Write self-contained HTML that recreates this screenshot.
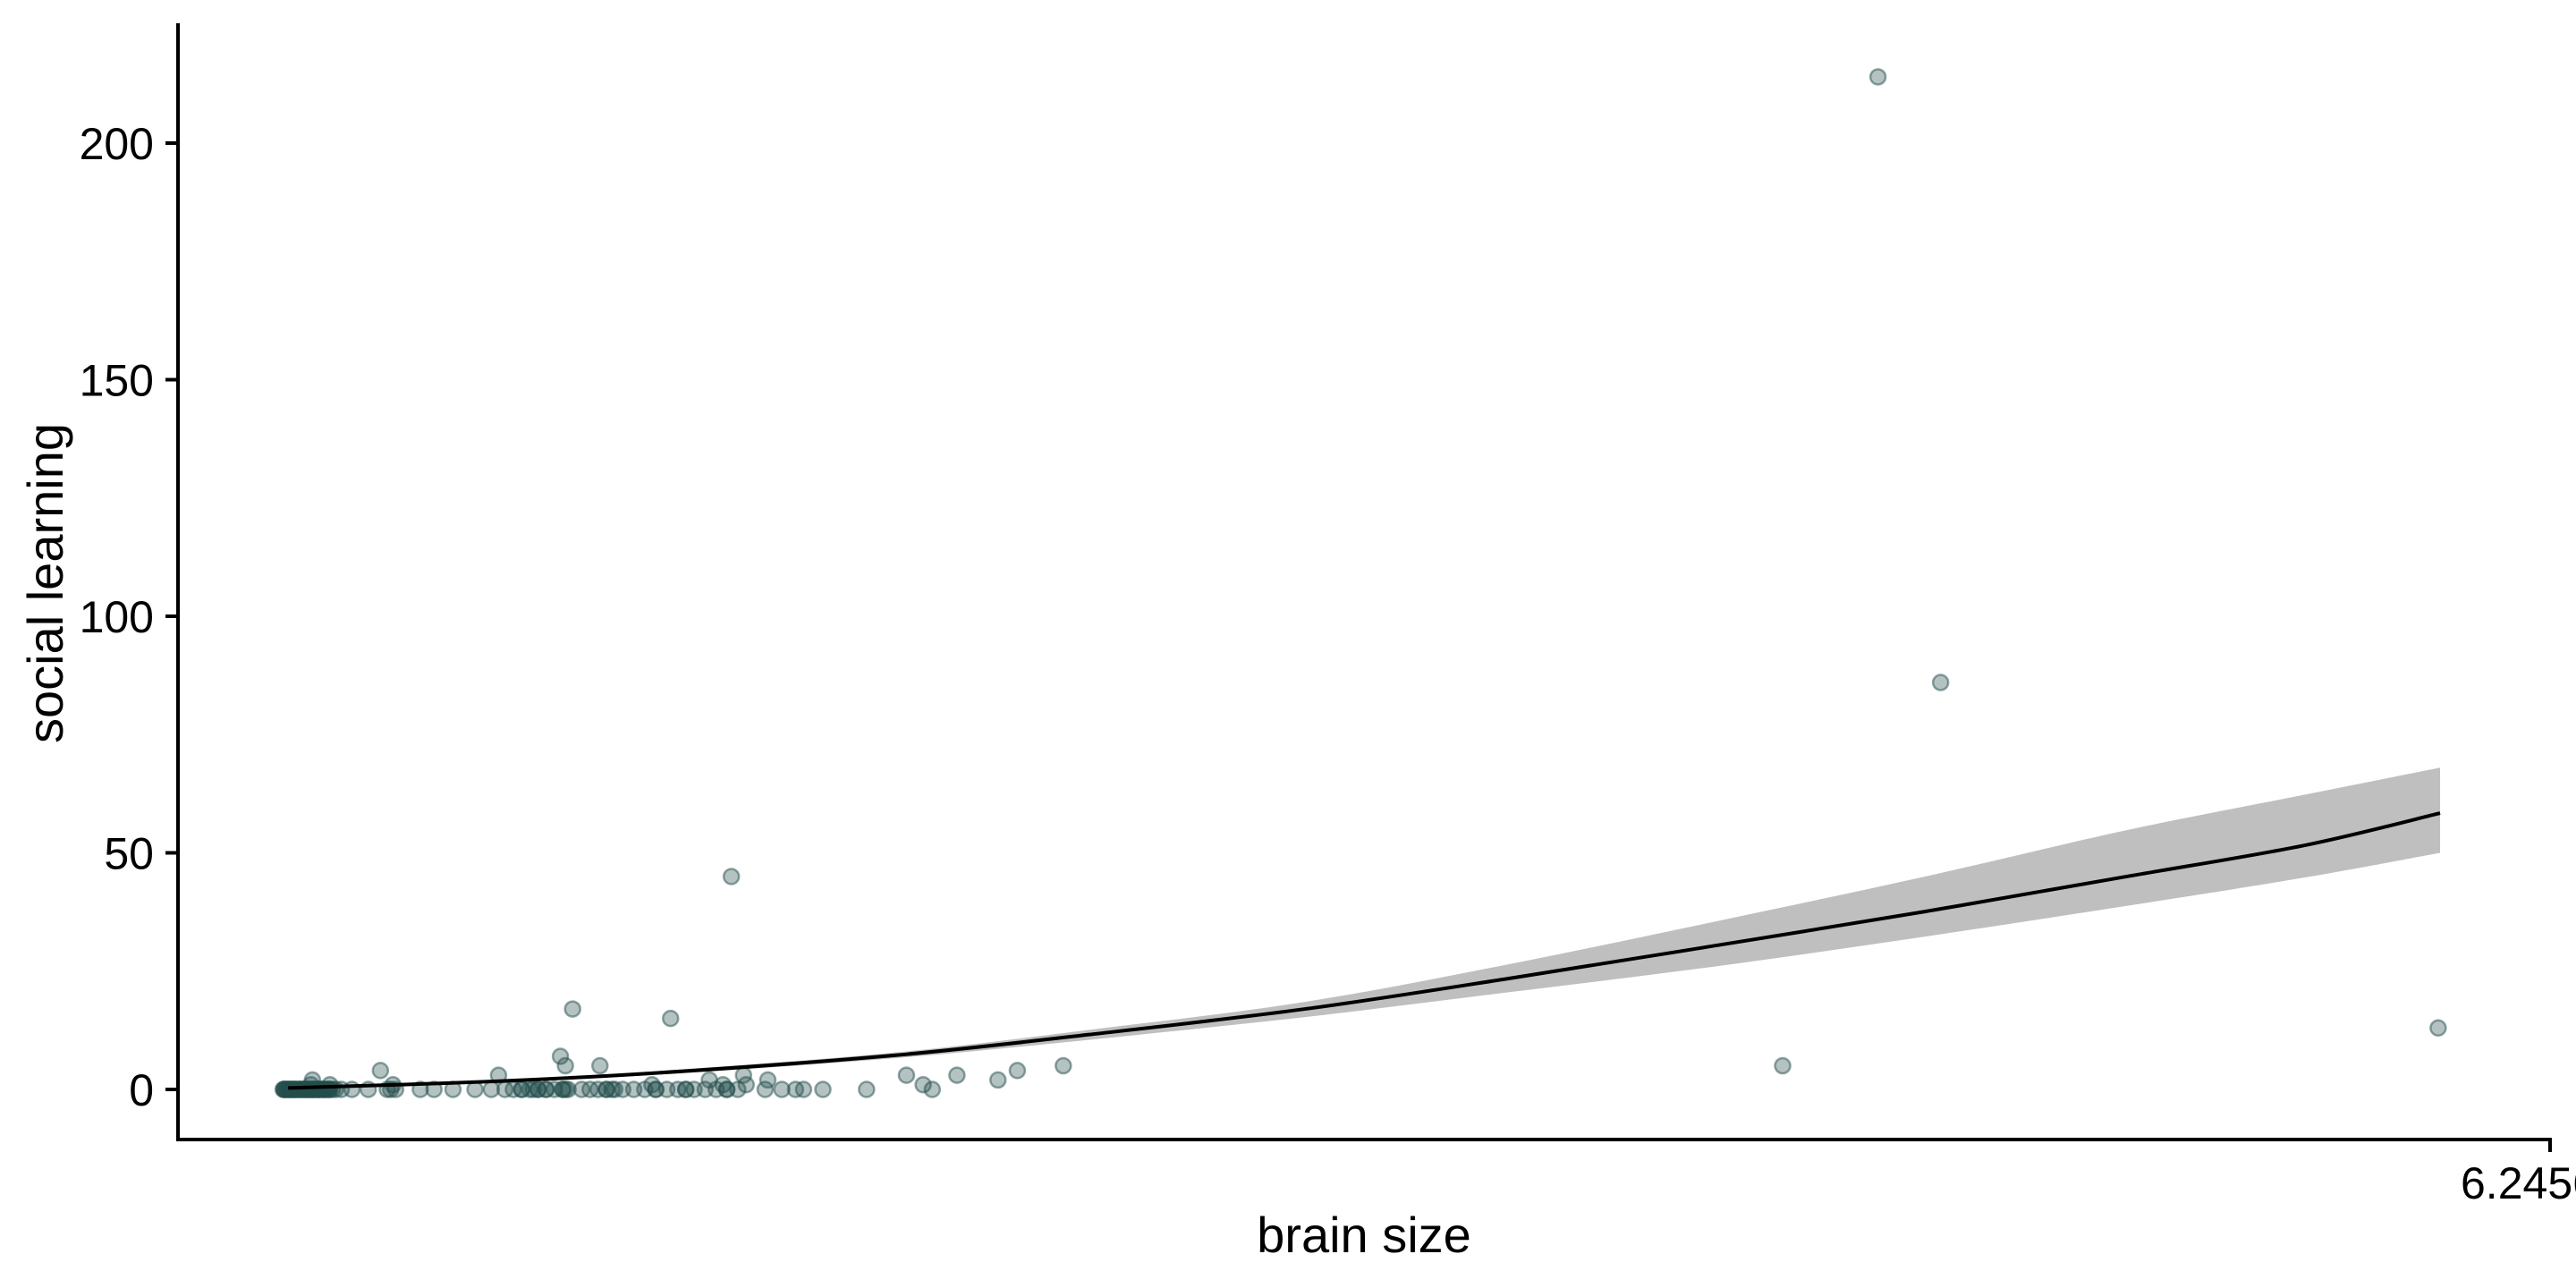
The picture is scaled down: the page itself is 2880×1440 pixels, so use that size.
<!DOCTYPE html>
<html><head><meta charset="utf-8"><style>
html,body{margin:0;padding:0;background:#fff;width:2880px;height:1440px;overflow:hidden}
svg text{font-family:"Liberation Sans",Arial,sans-serif;fill:#000}
</style></head><body>
<svg id="chart" width="2880" height="1440" viewBox="0 0 2880 1440" xmlns="http://www.w3.org/2000/svg">
<g id="band"></g>
<g id="pts"></g>
<g id="fit"></g>
<g id="axes"></g>
<text x="0" y="0" font-size="56" text-anchor="middle" transform="translate(70,652) rotate(-90)">social learning</text>
<text x="1525" y="1400" font-size="56" text-anchor="middle">brain size</text>
</svg>
<script>
const pointX = [0.277,0.285,0.292,0.299,0.306,0.313,0.321,0.328,0.335,0.342,0.349,0.356,0.364,0.371,0.378,0.385,0.393,0.400,0.407,0.458,0.501,0.551,0.573,0.638,0.674,0.724,0.782,0.825,0.861,0.883,0.905,0.926,0.948,0.969,0.991,1.013,1.027,1.063,1.085,1.106,1.128,1.143,1.171,1.200,1.229,1.258,1.287,1.316,1.337,1.359,1.388,1.417,1.445,1.474,1.546,1.590,1.626,1.647,1.698,1.813,1.986,
 0.533,0.354,0.400,0.844,1.039,1.297,1.007,1.020,1.111,1.399,1.489,1.496,1.553,1.435,1.918,1.962,2.051,2.159,2.210,2.331,1.248,0.566,1.457,4.476,4.641,4.225,5.951,
 0.280,0.290,0.300,0.310,0.320,0.330,0.340,0.350,0.360,0.370,0.380,0.395,0.905,0.948,0.969,1.013,1.128,1.258,1.337,1.445,
 0.282,0.295,0.305,0.318,0.332,0.345,0.358,0.372,0.387,0.350,
 0.279,0.288,0.297,0.309,0.323,0.338,0.353,0.368,0.383,0.398,0.415,0.430,0.560,0.935,1.020,1.150];
const pointY = [0,0,0,0,0,0,0,0,0,0,0,0,0,0,0,0,0,0,0,0,0,0,0,0,0,0,0,0,0,0,0,0,0,0,0,0,0,0,0,0,0,0,0,0,0,0,0,0,0,0,0,0,0,0,0,0,0,0,0,0,0,
 4,2,1,3,17,15,7,5,5,2,3,1,2,1,3,1,3,2,4,5,1,1,45,214,86,5,13,
 0,0,0,0,0,0,0,0,0,0,0,0,0,0,0,0,0,0,0,0,
 0,0,0,0,0,0,0,0,0,1,
 0,0,0,0,0,0,0,0,0,0,0,0,0,0,0,0];
const curveX = [0.29,0.8,1.263,1.886,2.4,2.967,3.5,4.048,4.6,5.131,5.6,5.956];
const fitY   = [0.3,1.6,3.5,7.2,11.6,17,23.4,30.4,37.6,45,51.6,58.4];
const lowY   = [0,1.3,3.1,6.6,10.5,15.3,20.5,26,32.3,38.8,44.8,50];
const highY  = [0.6,1.9,3.9,7.8,12.6,18.5,26.4,35.5,45,54.8,62.3,68];
const yTicks = [0,50,100,150,200];
const xTickLabels = ["6.2456"];
const xTickVals = [6.2456];

const X0=199, X1=2851, Y0=1218, Y1=160;
const xs = v => X0 + (v-0)/(6.2456-0)*(X1-X0);
const ys = v => Y0 - v/200*(Y0-Y1);
const NS="http://www.w3.org/2000/svg";
function mk(tag, attrs, parent){const e=document.createElementNS(NS,tag);for(const k in attrs)e.setAttribute(k,attrs[k]);parent.appendChild(e);return e;}
function smooth(px,py){
  let d=`M${px[0]},${py[0]}`;
  for(let i=0;i<px.length-1;i++){
    const x0=px[Math.max(0,i-1)],y0=py[Math.max(0,i-1)],x1=px[i],y1=py[i],x2=px[i+1],y2=py[i+1],x3=px[Math.min(px.length-1,i+2)],y3=py[Math.min(px.length-1,i+2)];
    d+=` C${x1+(x2-x0)/6},${y1+(y2-y0)/6} ${x2-(x3-x1)/6},${y2-(y3-y1)/6} ${x2},${y2}`;
  }
  return d;
}
const cx=curveX.map(xs);
const up=smooth(cx,highY.map(ys));
const lowRev=smooth(cx.slice().reverse(),lowY.map(ys).reverse()).replace(/^M/,'L');
const band=mk('path',{d:up+' '+lowRev+' Z',fill:'#bfbfbf',stroke:'none'},document.getElementById('band'));


const pg=document.getElementById('pts');
for(let i=0;i<pointX.length;i++){
  const c=mk('circle',{cx:xs(pointX[i]),cy:ys(pointY[i]),r:8.5,fill:'rgba(35,78,76,0.34)',stroke:'rgba(35,78,76,0.5)','stroke-width':2.5},pg);
  
  
}
const fl=mk('path',{d:smooth(cx,fitY.map(ys)),fill:'none',stroke:'#000','stroke-width':4},document.getElementById('fit'));


const ag=document.getElementById('axes');
const ya=mk('line',{x1:X0,y1:26,x2:X0,y2:1276,stroke:'#000','stroke-width':4},ag);


const xa=mk('line',{x1:X0-2,y1:1274,x2:X1+2,y2:1274,stroke:'#000','stroke-width':4},ag);


yTicks.forEach(t=>{
  const l=mk('line',{x1:X0-14,y1:ys(t),x2:X0,y2:ys(t),stroke:'#000','stroke-width':4},ag);
  
  
  const tx=mk('text',{x:172,y:ys(t)+18,'font-size':50,'text-anchor':'end'},ag);
  tx.textContent=t;
  
  
});
xTickVals.forEach((v,i)=>{
  const l=mk('line',{x1:xs(v),y1:1274,x2:xs(v),y2:1288,stroke:'#000','stroke-width':4},ag);
  
  
  const tx=mk('text',{x:2751,y:1340,'font-size':50,'text-anchor':'start'},ag);
  tx.textContent=xTickLabels[i];
  
  
});
</script>
</body></html>
